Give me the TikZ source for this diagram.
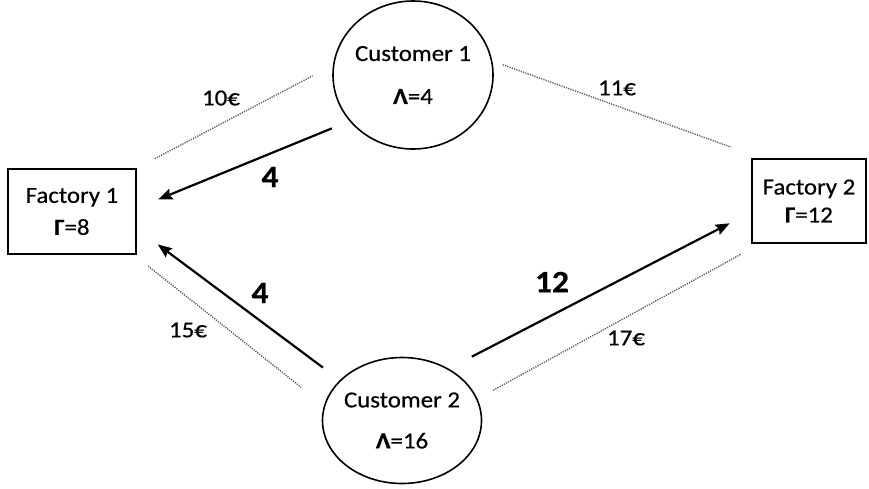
\documentclass[tikz,border=0pt]{standalone}
\usepackage{fontspec}
\setmainfont{Carlito}[FakeStretch=1.08,FakeBold=0.5]
\usetikzlibrary{shapes.geometric,arrows.meta}

\begin{document}
\begin{tikzpicture}[x=1pt,y=-1pt,
  every node/.style={font=\fontsize{23}{27}\selectfont},
  customer/.style={shape=ellipse,draw=black,line width=1.6pt,inner xsep=-4pt,inner ysep=0pt,align=center},
  factory/.style={shape=rectangle,draw=black,line width=2pt,align=center},
  flow/.style={draw=black,line width=2.2pt,-{Stealth[length=14pt,width=11pt,inset=2pt]}},
  cost/.style={draw=black!65,line width=1.4pt,dash pattern=on 1.2pt off 1.2pt},
  price/.style={inner sep=1pt},
  qty/.style={inner sep=1pt,font=\fontsize{31}{35}\selectfont\bfseries}]
\useasboundingbox (0,0) rectangle (869,488);
\node[factory,minimum width=128pt,minimum height=85pt] (F1) at (72,211.5) {Factory 1\\[5pt]\textbf{Γ}=8};
\node[factory,minimum width=114pt,minimum height=84pt] (F2) at (809,201) {Factory 2\\[1pt]\textbf{Γ}=12};
\node[customer,minimum width=160pt,minimum height=148pt] (C1) at (413,75) {Customer 1\\[16pt]\textbf{Λ}=4};
\node[customer,minimum width=159pt,minimum height=126pt] (C2) at (402,420.5) {Customer 2\\[14pt]\textbf{Λ}=16};
\node[price] (p1) at (221,98) {10€};
\node[price] (p2) at (617,88) {11€};
\node[price] (p3) at (188,330) {15€};
\node[price] (p4) at (626,338) {17€};
\node[qty] (q1) at (270,177) {4};
\node[qty] (q2) at (260,293) {4};
\node[qty] (q3) at (552,282) {12};
\path [] (F1.north east) edge[cost,shorten <=20pt,shorten >=23pt] (C1.173);
\path [] (C1.10) edge[cost,shorten <=11pt,shorten >=32pt] (F2.138);
\path [] (F1.-35) edge[cost,shorten <=18pt,shorten >=29pt] (C2.169);
\path [] (C2.16) edge[cost,shorten <=18pt,shorten >=21pt] (F2.221);
\path [] (C1.216) edge[flow,shorten <=19pt,shorten >=23pt] (F1.3);
\path [] (C2.147) edge[flow,shorten <=21pt,shorten >=26pt] (F1.-15);
\path [] (C2.48) edge[flow,shorten <=26pt,shorten >=24pt] (F2.191);
\end{tikzpicture}
\end{document}
